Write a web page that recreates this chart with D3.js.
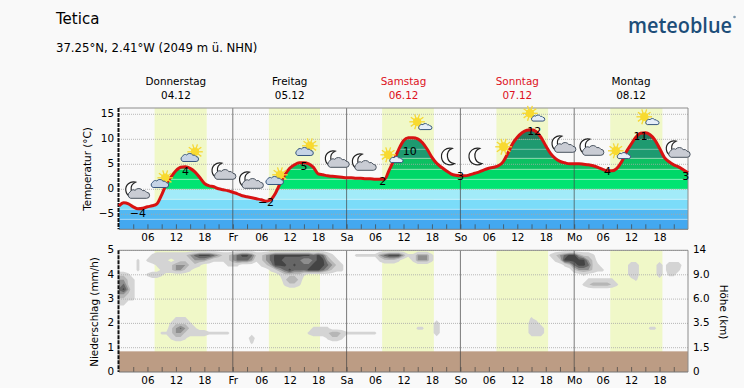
<!DOCTYPE html>
<html><head><meta charset="utf-8">
<script src="https://cdn.jsdelivr.net/npm/d3@7"></script>
<style>
html,body{margin:0;padding:0;background:#f9f9f9}
svg{display:block}
text{font-family:"DejaVu Sans",sans-serif;fill:#000}
</style></head><body>
<svg id="c" width="744" height="388"></svg>
<script>
const title = "Tetica";
const subtitle = "37.25°N, 2.41°W (2049 m ü. NHN)";
const dayNames = ["Donnerstag","Freitag","Samstag","Sonntag","Montag"];
const dayDates = ["04.12","05.12","06.12","07.12","08.12"];
const dayIsWeekend = [false,false,true,true,false];
const dayShort = ["Fr","Sa","So","Mo"];
const tempTicks = [-5,0,5,10,15];
const levelTicks = [0,1,2,3,4,5];
const heightLabels = ["0","1.5","3.5","6.0","9.0","14"];
// hourly temperature, hour 0..120
const temps = [-3.3,-2.7,-2.9,-3.5,-3.9,-3.8,-3.5,-3.3,-2.9,-1.1,1.1,2.5,3.7,4.4,4.5,4.2,3.5,2.4,1.2,0.7,0.5,0.1,-0.1,-0.3,
-0.6,-0.9,-1.3,-1.5,-1.7,-1.9,-2.1,-2.4,-2.1,-0.8,1.2,2.9,4.2,4.9,5.3,5.3,5.1,4.4,3.1,2.9,2.7,2.6,2.5,2.4,
2.3,2.3,2.2,2.2,2.1,2.1,2.0,2.0,2.0,3.9,5.9,8.0,9.7,10.3,10.3,10.1,9.3,8.0,6.4,5.2,4.4,3.7,3.1,2.8,
2.7,2.7,2.9,3.2,3.5,3.9,4.2,4.4,4.7,5.5,7.2,9.1,10.4,11.3,11.8,11.9,11.5,10.4,8.7,7.2,6.2,5.6,5.3,5.1,
5.1,5.1,5.0,4.9,4.7,4.4,4.0,3.7,3.7,4.2,5.5,7.5,9.0,10.4,11.2,11.3,10.9,9.9,8.2,6.4,5.5,4.9,4.5,3.9,3.3];
const labelHours = [4,14,31,39,55.6,61.3,72,87.6,103,110,119.5];
const labelTemps = [-5.5,2.9,-3.3,3.8,0.9,6.9,1.9,10.8,2.9,9.8,1.9];
const labelTexts = ["−4","4","−2","5","2","10","3","12","4","11","3"];
const daylightStart = [7.5,31.6,55.5,79.6,103.6];
const daylightEnd = [18.5,42.4,66.4,90.5,114.6];
const bandEdges = [-8,-6,-4,-2,0,2,4,6.2,10,17];
const bandColors = ["#43a8f0","#52b8f2","#7bdcf9","#a2ebf9","#00e472","#00d868","#0cc062","#1e9a70","#237a5c"];
const iconHours = [3.5,9,15.3,21.7,27.5,33.2,39.5,45.6,51.3,57.4,63.5,69.6,75.4,81.1,87.3,93.4,99.3,105.4,111.4,117.5];
const iconTemps = [-0.3,1.9,7.1,3.5,1.7,2.5,8.3,5.9,5.3,6.7,13.3,6.5,6.5,8.5,15,8.9,8.3,7.5,14.3,7.9];
const iconKinds = ["mc","sc","sc","mc","mc","sc","sc","mc","mc","cs","cs","m","m","s","cs","mc","mc","cs","cs","mc"];
const groundLevel = 0.85;
// cloud density: row level -> [first hour, digits per hour]
const cloudRows = [
 [4.8,[[7,"12222222345554322345542234555555554"],[42,"5421"],[50,"111113455531"],[62,"13331"],[91,"1234553221"]]],
 [4.6,[[4,"1"],[6,"1222101222333211"],[22,"123444312345544"],[37,"4433455321"],[55,"12221"],[62,"13331"],[92,"125555532"]]],
 [4.4,[[4,"1"],[8,"1222333221"],[23,"111"],[30,"123555454445554321"],[94,"12455421"],[108,"22"],[114,"2"],[116,"222"]]],
 [4.2,[[4,"1"],[9,"1223321"],[32,"1234544455543211"],[96,"2333211"],[108,"22"],[114,"2"],[116,"221"]]],
 [4.0,[[0,"221"],[6,"1221"],[34,"122221"],[98,"1"],[108,"22"],[114,"2"],[116,"11"]]],
 [3.8,[[0,"3321"],[35,"2332"],[99,"111111"],[109,"1"]]],
 [3.6,[[0,"3421"],[35,"1221"],[98,"12333321"]]],
 [3.4,[[0,"4531"]]],
 [3.2,[[0,"3321"]]],
 [3.0,[[0,"2211"]]],
 [2.8,[[0,"11"]]],
 [2.2,[[12,"111"],[87,"1"]]],
 [2.0,[[11,"12221"],[67,"2"],[87,"22"]]],
 [1.8,[[11,"234321"],[41,"1111"],[63,"11"],[67,"2"],[87,"222"],[112,"11"]]],
 [1.6,[[9,"112332222211111"],[40,"122223321"],[49,"111111"],[67,"2"],[87,"222"]]],
 [1.4,[[11,"1221"],[28,"2"],[44,"1221"]]],
 [1.2,[[28,"1"]]]
];
const cloudThresholds = [0.7,2.2,3,3.8,4.7];
const cloudColors = ["#d4d4d4","#b6b6b6","#8e8e8e","#666666","#444444"];

const svg = d3.select("#c");
const L=119,R=688;
const x = d3.scaleLinear().domain([0,120]).range([L,R]);
const yT = d3.scaleLinear().domain([-8,15]).range([229.3,114.3]);
const T1=108,B1=229.3,T2=250.3,B2=372;
const yL = d3.scaleLinear().domain([0,5]).range([372,250.5]);
const defs = svg.append("defs");

// header
svg.append("text").attr("x",56).attr("y",24).attr("font-size",15).text(title);
svg.append("text").attr("x",56).attr("y",52).attr("font-size",11.7).text(subtitle);
svg.append("text").attr("x",628).attr("y",33).attr("font-size",22).attr("textLength",104).attr("lengthAdjust","spacingAndGlyphs")
  .style("font-family","'Open Sans',sans-serif").style("font-weight",600).style("fill","#1d4e79").text("meteoblue");
svg.append("circle").attr("cx",734.5).attr("cy",17).attr("r",1.3).attr("fill","#7d98ae");

// day headings
dayNames.forEach((d,i)=>{
  const c=x(12+24*i), col=dayIsWeekend[i]?"#dd1122":"#000";
  svg.append("text").attr("x",c).attr("y",85).attr("text-anchor","middle").attr("font-size",10.4).style("fill",col).text(d);
  svg.append("text").attr("x",c).attr("y",99).attr("text-anchor","middle").attr("font-size",10.4).style("fill",col).text(dayDates[i]);
});

function panel(top,bottom){
  const g=svg.append("g");
  g.append("rect").attr("x",L).attr("y",top).attr("width",R-L).attr("height",bottom-top).attr("fill","#f9f9f9");
  g.selectAll(".dl").data(daylightStart).join("rect")
    .attr("x",d=>x(d)).attr("width",(d,i)=>x(daylightEnd[i])-x(d))
    .attr("y",top).attr("height",bottom-top).attr("fill","#f0f8c8");
}
function frame(top,bottom,y,gridTicks){
  const g=svg.append("g");
  g.selectAll("line.g").data(gridTicks).join("line")
    .attr("x1",L).attr("x2",R).attr("y1",d=>y(d)).attr("y2",d=>y(d))
    .attr("stroke","#a8a8a8").attr("stroke-opacity",.8).attr("stroke-width",1).attr("stroke-dasharray","1,1");
  [24,48,72,96].forEach(h=>g.append("line").attr("x1",x(h)).attr("x2",x(h)).attr("y1",top).attr("y2",bottom)
    .attr("stroke","#444").attr("stroke-opacity",.7).attr("stroke-width",1));
  const ax=g.append("g").attr("transform",`translate(0,${bottom})`)
    .call(d3.axisBottom(x).tickValues(d3.range(3,120,3)).tickSize(-5).tickPadding(0)
      .tickFormat(h=>h%24===0?dayShort[h/24-1]:(h%6===0?String(h%24).padStart(2,"0"):"")));
  ax.select(".domain").remove();
  ax.selectAll(".tick line").attr("stroke","#444").attr("stroke-width",.7);
  ax.selectAll(".tick text").attr("y",12).attr("dy",0).attr("font-size",10.4).style("font-family","'DejaVu Sans',sans-serif");
  g.append("path").attr("d",`M${L},${top}H${R}V${bottom}`).attr("fill","none").attr("stroke","#8c8c8c").attr("stroke-width",1);
  g.append("line").attr("x1",L).attr("x2",R).attr("y1",bottom).attr("y2",bottom).attr("stroke","#777").attr("stroke-width",1);
  g.append("line").attr("x1",L-0.5).attr("x2",L-0.5).attr("y1",top).attr("y2",bottom)
    .attr("stroke","#111").attr("stroke-width",2).attr("stroke-dasharray","4,1");
}
function leftAxis(y,ticks,shift){
  const a=svg.append("g").attr("transform",`translate(${L-1},${shift})`).call(d3.axisLeft(y).tickValues(ticks).tickSize(0).tickPadding(4)
    .tickFormat(d=>String(d).replace("-","−")));
  a.select(".domain").remove();
  a.selectAll("text").attr("font-size",10.4).style("font-family","'DejaVu Sans',sans-serif");
}

// temperature panel
panel(T1,B1);
const area=d3.area().x((d,i)=>x(i)).y0(yT(-8)).y1(d=>yT(d)).curve(d3.curveMonotoneX);
const line=d3.line().x((d,i)=>x(i)).y(d=>yT(d)).curve(d3.curveMonotoneX);
defs.append("clipPath").attr("id","under").append("path").attr("d",area(temps));
const bands=svg.append("g").attr("clip-path","url(#under)");
bandColors.forEach((c,i)=>{
  bands.append("rect").attr("x",L).attr("width",R-L)
    .attr("y",yT(bandEdges[i+1])).attr("height",yT(bandEdges[i])-yT(bandEdges[i+1])).attr("fill",c);
});
bands.selectAll("line").data(bandEdges.slice(1,8).concat([8])).join("line")
  .attr("x1",L).attr("x2",R).attr("y1",d=>yT(d)).attr("y2",d=>yT(d))
  .attr("stroke","#fff").attr("stroke-opacity",.4).attr("stroke-width",1);
frame(T1,B1,yT,tempTicks);
svg.append("path").attr("d",line(temps)).attr("fill","none").attr("stroke","#d81212").attr("stroke-width",3).attr("stroke-linejoin","round");
leftAxis(yT,tempTicks,-1.5);
svg.append("text").attr("transform","translate(91,169) rotate(-90)").attr("text-anchor","middle").attr("font-size",10.4).text("Temperatur (°C)");

labelTexts.forEach((t,i)=>{
  svg.append("text").attr("x",x(labelHours[i])).attr("y",yT(labelTemps[i])).attr("text-anchor","middle").attr("font-size",11).text(t);
});

// weather icons
function cloud(g,cx,cy,s,fill,stroke){
  const p=g.append("g").attr("transform",`translate(${cx},${cy}) scale(${s})`);
  p.append("path").attr("d","M-8,4.5 A3.4,3.4 0 0 1 -8.5,-1.8 A3.4,3.4 0 0 1 -3.5,-3.5 A4.6,4.6 0 0 1 4,-3.2 A3.4,3.4 0 0 1 8,-1.5 A3,3 0 0 1 8,4.5 Z")
    .attr("fill",fill).attr("stroke",stroke).attr("stroke-width",1/s);
}
function sun(g,cx,cy,r){
  const p=g.append("g").attr("transform",`translate(${cx},${cy})`);
  d3.range(0,360,36).forEach(a=>{
    const q=a*Math.PI/180;
    p.append("line").attr("x1",Math.cos(q)*r*.8).attr("y1",Math.sin(q)*r*.8).attr("x2",Math.cos(q)*r*1.85).attr("y2",Math.sin(q)*r*1.85)
      .attr("stroke","#f6d735").attr("stroke-width",1.3);
  });
  p.append("circle").attr("r",r).attr("fill","#f8da30");
}
function moon(g,cx,cy,s){
  g.append("path").attr("transform",`translate(${cx},${cy}) scale(${s})`)
    .attr("d","M3,-8 A8,8 0 1 0 5,6.5 A7.6,7.6 0 0 1 3,-8 Z")
    .attr("fill","#fff").attr("stroke","#222").attr("stroke-width",1.2/s);
}
const icons=svg.append("g");
iconKinds.forEach((k,i)=>{
  const g=icons.append("g").attr("transform",`translate(${x(iconHours[i])},${yT(iconTemps[i])})`);
  if(k==="mc"){moon(g,-3,-1,.95);cloud(g,3,3,1,"#c9ccd4","#4a5460");}
  if(k==="m"){moon(g,0,0,1.05);}
  if(k==="s"){sun(g,0,0,4.5);}
  if(k==="sc"){sun(g,3.5,-2,4.2);cloud(g,-2,4,.82,"#c6d4e6","#37577f");}
  if(k==="cs"){sun(g,-3,-1,4.2);cloud(g,5,4,.62,"#e6eef8","#37577f");}
});

// cloud panel
panel(T2,B2);
const nx=121, levels=d3.range(21).map(i=>+(5-i*0.2).toFixed(1));
const grid=new Array(nx*levels.length).fill(0);
cloudRows.forEach(([lv,segs])=>{
  const j=levels.indexOf(lv);
  segs.forEach(([h,s])=>{[...s].forEach((c,k)=>{ if(h+k<nx) grid[j*nx+h+k]=+c; });});
});
const contours=d3.contours().size([nx,levels.length]).smooth(true).thresholds(cloudThresholds)(grid);
const proj=d3.geoTransform({point(px,py){this.stream.point(x(px-0.5),yL(5-(py-0.5)*0.2));}});
defs.append("clipPath").attr("id","cp2").append("rect").attr("x",L).attr("y",T2).attr("width",R-L).attr("height",B2-T2);
svg.append("g").attr("clip-path","url(#cp2)").selectAll("path").data(contours).join("path")
  .attr("d",d3.geoPath(proj)).attr("fill",(d,i)=>cloudColors[i]);
svg.append("rect").attr("x",L).attr("width",R-L).attr("y",yL(groundLevel)).attr("height",yL(0)-yL(groundLevel)).attr("fill","#bc9c84");
frame(T2,B2,yL,[1,2,3,4,5]);
leftAxis(yL,levelTicks,-1);
const ra=svg.append("g").attr("transform",`translate(${R},-1)`).call(d3.axisRight(yL).tickValues(levelTicks).tickSize(0).tickPadding(5).tickFormat((d,i)=>heightLabels[i]));
ra.select(".domain").remove();
ra.selectAll("text").attr("font-size",10.4).style("font-family","'DejaVu Sans',sans-serif");
svg.append("text").attr("transform","translate(98,312) rotate(-90)").attr("text-anchor","middle").attr("font-size",10.4).text("Niederschlag (mm/h)");
svg.append("text").attr("transform","translate(720,312) rotate(90)").attr("text-anchor","middle").attr("font-size",10.4).text("Höhe (km)");
</script></body></html>
